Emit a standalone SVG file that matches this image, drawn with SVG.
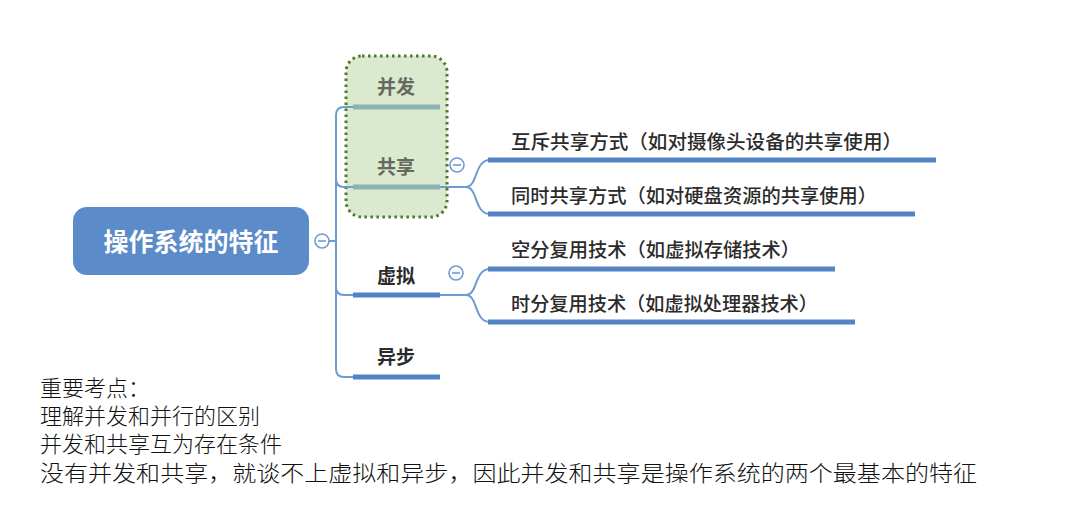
<svg xmlns="http://www.w3.org/2000/svg" width="1068" height="522" viewBox="0 0 1068 522">
<style>
.conn{fill:none;stroke:#6e9bd2;stroke-width:2}
.ul{stroke:#5283c4;stroke-width:5;stroke-linecap:butt}
.ulg{stroke:#8eb1b6;stroke-width:5}
.lbl{font-family:"Noto Sans CJK SC",sans-serif;font-size:19px;font-weight:500;fill:#2b2b2b}
.blbl{font-family:"Noto Sans CJK SC",sans-serif;font-size:19px;font-weight:bold;fill:#2b2b2b}
.blblg{font-family:"Noto Sans CJK SC",sans-serif;font-size:19px;font-weight:bold;fill:#646a5e}
.note{font-family:"Liberation Serif","Noto Sans CJK SC",serif;font-size:22px;font-weight:300;fill:#111}
.tog circle{fill:#fff;stroke:#6e9bd2;stroke-width:1.6}
.tog line{stroke:#6e9bd2;stroke-width:1.6}
</style>
<rect width="1068" height="522" fill="#fff"/>
<g id="highlight">
<rect x="346" y="56" width="101" height="161" rx="16" fill="#dbe9cf" stroke="#4e7a2c" stroke-width="3" stroke-dasharray="2.5 3.5"/>
</g>
<g id="connectors">
<path class="conn" d="M329,241 L336,241"/>
<path class="conn" d="M353,107 L344,107 Q336,107 336,115 L336,369 Q336,377 344,377 L353,377"/>
<path class="conn" d="M336,179 Q336,187 344,187 L353,187"/>
<path class="conn" d="M336,287 Q336,295 344,295 L353,295"/>
<path class="conn" d="M440,187 L466,187 C478,187 474,160 490,160"/>
<path class="conn" d="M466,187 C478,187 474,214 490,214"/>
<path class="conn" d="M440,295 L466,295 C478,295 474,269 490,269"/>
<path class="conn" d="M466,295 C478,295 474,322 490,322"/>
</g>
<g id="root">
<rect x="73" y="207" width="236" height="68" rx="14" fill="#5b8bc9"/>
<text x="191" y="251" text-anchor="middle" font-family="Noto Sans CJK SC,sans-serif" font-size="25" font-weight="bold" fill="#fff">操作系统的特征</text>
</g>
<g id="toggle-root" class="tog"><circle cx="322" cy="241" r="7"/><line x1="318" y1="241" x2="326" y2="241"/></g>
<g id="bingfa">
<text class="blblg" x="396" y="94" text-anchor="middle">并发</text>
<line class="ulg" x1="353" y1="107" x2="440" y2="107"/>
</g>
<g id="gongxiang">
<text class="blblg" x="396" y="174" text-anchor="middle">共享</text>
<line class="ulg" x1="353" y1="187" x2="440" y2="187"/>
</g>
<g id="toggle-gongxiang" class="tog"><circle cx="457" cy="165" r="7"/><line x1="453" y1="165" x2="461" y2="165"/></g>
<g id="xuni">
<text class="blbl" x="396" y="283" text-anchor="middle">虚拟</text>
<line class="ul" x1="353" y1="295" x2="440" y2="295"/>
</g>
<g id="toggle-xuni" class="tog"><circle cx="456" cy="273" r="7"/><line x1="452" y1="273" x2="460" y2="273"/></g>
<g id="yibu">
<text class="blbl" x="396" y="364" text-anchor="middle">异步</text>
<line class="ul" x1="353" y1="377" x2="440" y2="377"/>
</g>
<g id="huchi">
<text class="lbl" x="511" y="149" textLength="391" lengthAdjust="spacingAndGlyphs">互斥共享方式（如对摄像头设备的共享使用）</text>
<line class="ul" x1="488" y1="160" x2="936" y2="160"/>
</g>
<g id="tongshi">
<text class="lbl" x="511" y="203" textLength="366" lengthAdjust="spacingAndGlyphs">同时共享方式（如对硬盘资源的共享使用）</text>
<line class="ul" x1="488" y1="214" x2="915" y2="214"/>
</g>
<g id="kongfen">
<text class="lbl" x="511" y="257" textLength="289" lengthAdjust="spacingAndGlyphs">空分复用技术（如虚拟存储技术）</text>
<line class="ul" x1="488" y1="269" x2="835" y2="269"/>
</g>
<g id="shifen">
<text class="lbl" x="511" y="311" textLength="307" lengthAdjust="spacingAndGlyphs">时分复用技术（如虚拟处理器技术）</text>
<line class="ul" x1="488" y1="322" x2="855" y2="322"/>
</g>
<g id="notes">
<text class="note" x="40" y="396">重要考点：</text>
<text class="note" x="40" y="424">理解并发和并行的区别</text>
<text class="note" x="40" y="452">并发和共享互为存在条件</text>
<text class="note" x="40" y="481" textLength="937" lengthAdjust="spacingAndGlyphs">没有并发和共享，就谈不上虚拟和异步，因此并发和共享是操作系统的两个最基本的特征</text>
</g>
</svg>
